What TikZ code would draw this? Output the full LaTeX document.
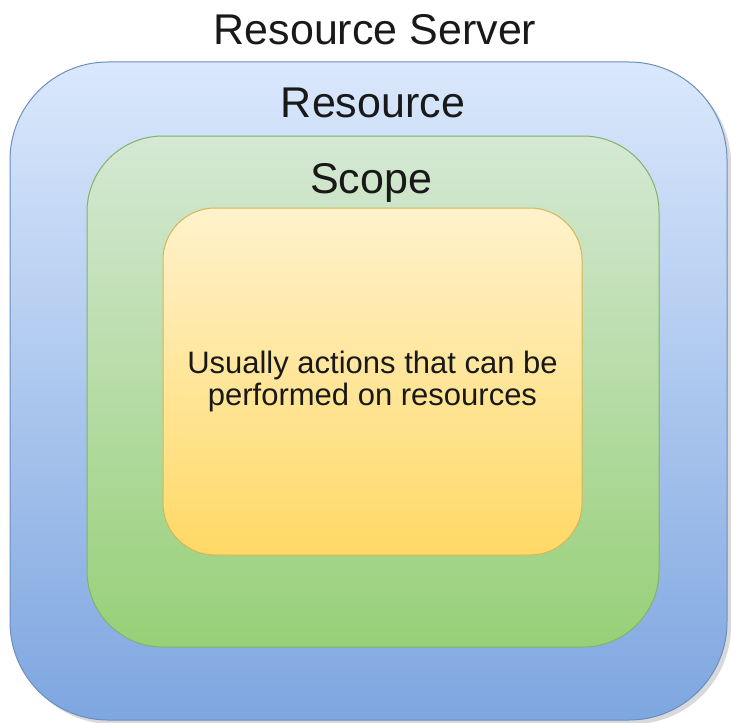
\documentclass[tikz,border=0pt]{standalone}
\usepackage{fontspec}
\setmainfont{Liberation Sans}
\usetikzlibrary{shadows}

\definecolor{servtop}{HTML}{DAE8FC}
\definecolor{servbot}{HTML}{7EA6E0}
\definecolor{servline}{HTML}{6C8EBF}
\definecolor{restop}{HTML}{D5E8D4}
\definecolor{resbot}{HTML}{97D077}
\definecolor{resline}{HTML}{82B366}
\definecolor{scopetop}{HTML}{FFF2CC}
\definecolor{scopebot}{HTML}{FFD966}
\definecolor{scopeline}{HTML}{D6B656}

\begin{document}
\begin{tikzpicture}[x=0.5pt,y=-0.5pt,
serverbox/.style={rectangle, rounded corners=49pt, draw=servline, line width=0.5pt, top color=servtop, bottom color=servbot, minimum width=358.5pt, minimum height=329pt, drop shadow={opacity=0.3, shadow xshift=2pt, shadow yshift=-2pt}},
resourcebox/.style={rectangle, rounded corners=38pt, draw=resline, line width=0.5pt, top color=restop, bottom color=resbot, minimum width=286pt, minimum height=255.5pt},
scopebox/.style={rectangle, rounded corners=26pt, draw=scopeline, line width=0.5pt, top color=scopetop, bottom color=scopebot, minimum width=209.5pt, minimum height=173.5pt},
titletext/.style={anchor=base, inner sep=0pt, font=\fontsize{21.5pt}{26pt}\selectfont, text=black!90}
]
\useasboundingbox (0,0) rectangle (731,722);

%Boxes
\node[serverbox] (server) at (368.5,391) {};
\node[resourcebox] (resource) at (373,391.5) {};
\node[scopebox, align=center, font=\fontsize{15.5pt}{16pt}\selectfont, text=black!90] (scope) at (372.5,381.5) {Usually actions that can be\\performed on resources};

%Labels
\node[titletext] (servertitle) at (375,45) {Resource Server};
\node[titletext] (resourcetitle) at (373,117) {Resource};
\node[titletext] (scopetitle) at (371,193) {Scope};

\end{tikzpicture}
\end{document}
